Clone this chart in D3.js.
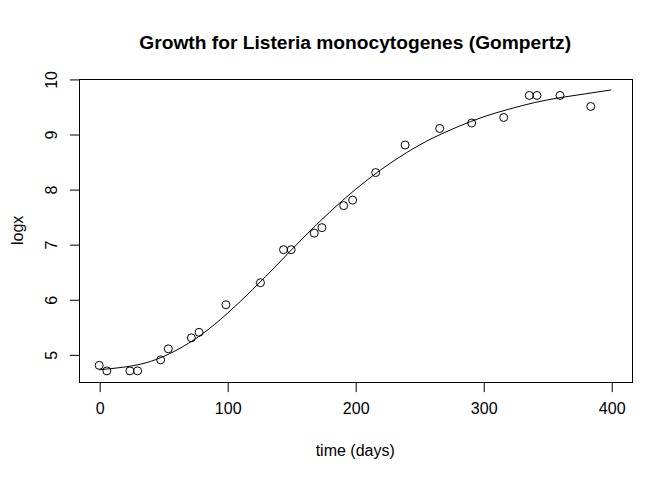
<!DOCTYPE html>
<html>
<head>
<meta charset="utf-8">
<script src="https://cdn.jsdelivr.net/npm/d3@7"></script>
<style>
  html, body { margin: 0; padding: 0; background: #fff; }
  svg { display: block; }
  text { font-family: "Liberation Sans", Arial, Helvetica, sans-serif; fill: #000; }
</style>
</head>
<body>
<svg id="chart" width="672" height="480"></svg>
<script>
// Observed data
const timeDays = [0, 6, 24, 30, 48, 54, 72, 78, 99, 126, 144, 150, 168, 174, 191, 198, 216, 239, 266, 291, 316, 336, 342, 360, 384];
const logx     = [4.8, 4.7, 4.7, 4.7, 4.9, 5.1, 5.3, 5.4, 5.9, 6.3, 6.9, 6.9, 7.2, 7.3, 7.7, 7.8, 8.3, 8.8, 9.1, 9.2, 9.3, 9.7, 9.7, 9.7, 9.5];

// Fitted Gompertz curve
const curveTime = [0, 20, 40, 60, 80, 100, 120, 140, 160, 180, 200, 220, 240, 260, 280, 300, 320, 340, 360, 380, 400];
const curveLogx = [4.72, 4.77, 4.87, 5.07, 5.36, 5.74, 6.18, 6.65, 7.13, 7.58, 7.99, 8.35, 8.66, 8.92, 9.13, 9.31, 9.45, 9.57, 9.66, 9.73, 9.80];

const xTicks = [0, 100, 200, 300, 400];
const yTicks = [5, 6, 7, 8, 9, 10];

const titleText = "Growth for Listeria monocytogenes (Gompertz)";
const xLabel = "time (days)";
const yLabel = "logx";

const W = 672, H = 480;
const plot = { left: 78.7, right: 631.7, top: 78.7, bottom: 382.1 };

const svg = d3.select("#chart");

const x = d3.scaleLinear().domain([-16, 416]).range([plot.left, plot.right]);
const y = d3.scaleLinear().domain([4.496, 10.004]).range([plot.bottom, plot.top]);

// Box
svg.append("rect")
  .attr("x", Math.round(plot.left) + 0.5)
  .attr("y", Math.round(plot.top) + 0.5)
  .attr("width", Math.round(plot.right) - Math.round(plot.left))
  .attr("height", Math.round(plot.bottom) - Math.round(plot.top))
  .attr("fill", "none")
  .attr("stroke", "#000")
  .attr("stroke-width", 1);

// X axis
const xAxis = d3.axisBottom(x).tickValues(xTicks).tickSize(9.6).tickPadding(2).tickFormat(d3.format("d"));
const gx = svg.append("g")
  .attr("transform", `translate(0.5,${Math.round(plot.bottom) + 0.5})`)
  .call(xAxis);
gx.select(".domain").attr("d", `M${x(0)},0H${x(400)}`).attr("stroke", "#000");
gx.selectAll(".tick line").attr("stroke", "#000");
gx.selectAll(".tick text")
  .attr("font-size", 16)
  .attr("font-family", "Liberation Sans, Arial, sans-serif")
  .attr("fill", "#000")
  .attr("y", 31)
  .attr("dy", null);

// Y axis
const yAxis = d3.axisLeft(y).tickValues(yTicks).tickSize(9.6).tickFormat(d3.format("d"));
const gy = svg.append("g")
  .attr("transform", `translate(${Math.round(plot.left) + 0.5},0.5)`)
  .call(yAxis);
gy.select(".domain").attr("d", `M0,${y(5)}V${y(10)}`).attr("stroke", "#000");
gy.selectAll(".tick line").attr("stroke", "#000");
gy.selectAll(".tick text")
  .attr("font-size", 16)
  .attr("font-family", "Liberation Sans, Arial, sans-serif")
  .attr("fill", "#000")
  .attr("x", null)
  .attr("dy", null)
  .attr("text-anchor", "middle")
  .attr("transform", "translate(-23,0) rotate(-90)");

// Curve
const line = d3.line()
  .x((d, i) => x(curveTime[i]))
  .y((d, i) => y(curveLogx[i]))
  .curve(d3.curveNatural);
svg.append("path")
  .datum(curveTime)
  .attr("d", line)
  .attr("fill", "none")
  .attr("stroke", "#000")
  .attr("stroke-width", 1);

// Points
svg.append("g").selectAll("circle")
  .data(timeDays)
  .join("circle")
  .attr("cx", (d) => x(d))
  .attr("cy", (d, i) => y(logx[i]))
  .attr("r", 4)
  .attr("fill", "none")
  .attr("stroke", "#000")
  .attr("stroke-width", 1);

// Title
svg.append("text")
  .attr("x", (plot.left + plot.right) / 2)
  .attr("y", 48.5)
  .attr("text-anchor", "middle")
  .attr("font-size", 19.2)
  .attr("font-weight", "bold")
  .text(titleText);

// X label
svg.append("text")
  .attr("x", (plot.left + plot.right) / 2)
  .attr("y", 456)
  .attr("text-anchor", "middle")
  .attr("font-size", 16)
  .text(xLabel);

// Y label
svg.append("text")
  .attr("transform", `translate(22.5,${(plot.top + plot.bottom) / 2}) rotate(-90)`)
  .attr("text-anchor", "middle")
  .attr("font-size", 16)
  .text(yLabel);
</script>
</body>
</html>
